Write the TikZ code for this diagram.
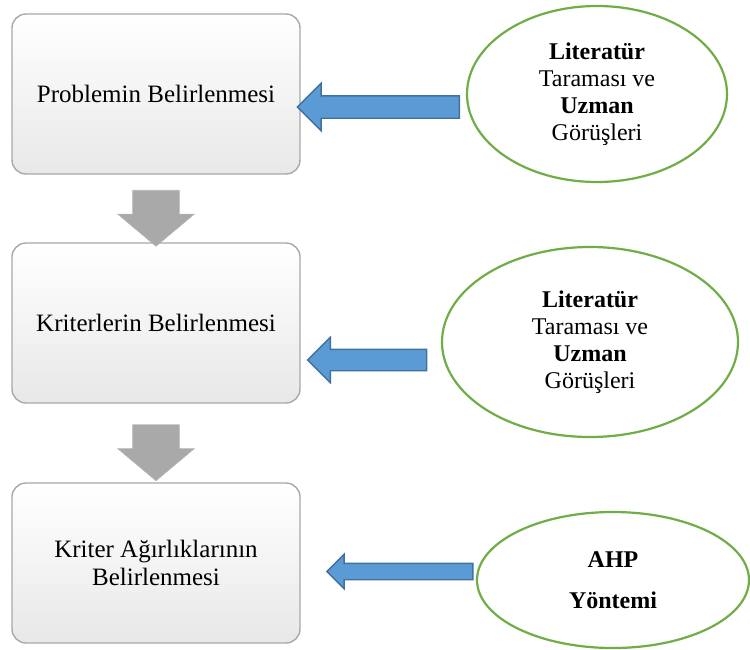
\documentclass[tikz,border=0pt]{standalone}
\usepackage{fontspec}
\setmainfont{Liberation Serif}
\usepackage{xcolor}
\usepackage{tikz}
\usetikzlibrary{shapes.geometric,shapes.arrows,calc}

\definecolor{boxline}{HTML}{A8A8A8}
\definecolor{boxshade}{HTML}{E8E8E8}
\definecolor{downgray}{HTML}{A9A9A9}
\definecolor{downedge}{HTML}{B8B8B8}
\definecolor{arrowblue}{HTML}{5B9BD5}
\definecolor{arrowedge}{HTML}{41719C}
\definecolor{srcgreen}{HTML}{70AD47}

\begin{document}
\begin{tikzpicture}[x=1pt, y=-1pt,
    stepbox/.style={draw=boxline, line width=1.4pt, rounded corners=14pt, top color=white, middle color=white, bottom color=boxshade, minimum width=288pt, minimum height=160pt, align=center, font=\fontsize{25}{28}\selectfont},
    source/.style={ellipse, draw=srcgreen, line width=2.2pt, fill=white, inner sep=0pt, align=center, font=\fontsize{24}{27}\selectfont},
    downarrow/.style={single arrow, rotate=-90, fill=downgray, draw=downedge, line width=0.6pt, minimum height=56pt, inner xsep=0pt, inner ysep=23pt, single arrow head extend=15pt, single arrow tip angle=100},
    feedarrow/.style={single arrow, rotate=180, fill=arrowblue, draw=arrowedge, line width=1.4pt, inner xsep=0pt, single arrow tip angle=90}
]
\useasboundingbox (0,0) rectangle (750,649);

% steps
\node[stepbox] (prob) at (156,94) {Problemin Belirlenmesi};
\node[stepbox] (crit) at (156,323) {Kriterlerin Belirlenmesi};
\node[stepbox] (weight) at (156,563) {Kriter Ağırlıklarının\\Belirlenmesi};

\node[downarrow] (down1) at ($(prob.south)!0.5!(crit.north)$) {};
\node[downarrow] (down2) at ($(crit.south)!0.5!(weight.north)$) {};

% inputs
\node[source, minimum width=260pt, minimum height=176pt] (lit1) at (597,94) {\textbf{Literatür}\\Taraması ve\\\textbf{Uzman}\\Görüşleri};
\node[source, minimum width=296pt, minimum height=190pt] (lit2) at (590,342) {\textbf{Literatür}\\Taraması ve\\\textbf{Uzman}\\Görüşleri};
\node[source, minimum width=272pt, minimum height=136pt] (ahp) at (613,580) {\textbf{AHP}\\[14pt]\textbf{Yöntemi}};

\node[feedarrow, minimum height=162pt, inner ysep=10.5pt, single arrow head extend=12.5pt] (feed1) at (384,107) {};
\node[feedarrow, minimum height=119pt, inner ysep=10pt, single arrow head extend=12pt] (feed2) at (372.5,360) {};
\node[feedarrow, minimum height=146pt, inner ysep=7.5pt, single arrow head extend=9pt] (feed3) at (404,571.5) {};
\end{tikzpicture}
\end{document}
